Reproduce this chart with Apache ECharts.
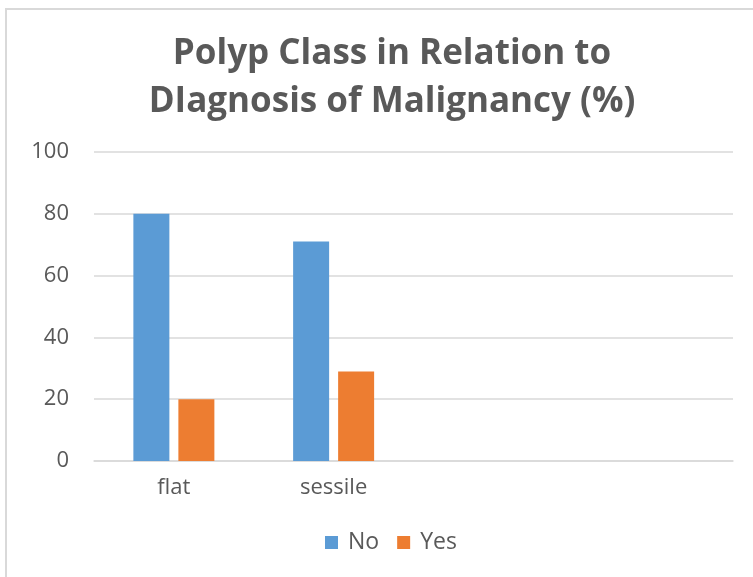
<!DOCTYPE html>
<html><head><meta charset="utf-8">
<script src="https://cdn.jsdelivr.net/npm/echarts@6/dist/echarts.min.js"></script>
<style>html,body{margin:0;padding:0;background:#fff}#c{width:753px;height:577px}</style>
</head><body><div id="c"></div>
<script>
const categories = ["flat", "sessile", "", ""];
const seriesNames = ["No", "Yes"];
const noValues = [80, 71, null, null];
const yesValues = [20, 29, null, null];
const yTicks = [0, 20, 40, 60, 80, 100];

const chart = echarts.init(document.getElementById('c'));
chart.setOption({
  animation: false,
  backgroundColor: '#fff',
  graphic: [{type: 'rect', shape: {x: 6, y: 9, width: 760, height: 580}, style: {fill: 'none', stroke: '#d9d9d9', lineWidth: 2}, silent: true}],
  title: {
    text: 'Polyp Class in Relation to\nDIagnosis of Malignancy (%)',
    left: 387, textAlign: 'center', top: 25,
    textStyle: {fontFamily: 'Open Sans', fontWeight: 'bold', fontSize: 35, color: '#595959', lineHeight: 48}
  },
  legend: {
    data: seriesNames, bottom: 18, left: 320, itemWidth: 13, itemHeight: 13, itemGap: 18,
    icon: 'rect',
    textStyle: {fontFamily: 'Open Sans', fontSize: 23, color: '#595959', padding: [0, 0, 0, 5]}
  },
  grid: {left: 94, right: 20, top: 152, bottom: 116},
  xAxis: {
    type: 'category', data: categories,
    axisLine: {lineStyle: {color: '#d9d9d9', width: 1.5}}, axisTick: {show: false},
    axisLabel: {fontFamily: 'Open Sans', fontSize: 22, color: '#595959', margin: 16}
  },
  yAxis: {
    type: 'value', min: 0, max: 100, interval: 20,
    axisLine: {show: false}, axisTick: {show: false},
    splitLine: {lineStyle: {color: '#d9d9d9', width: 1.5}},
    axisLabel: {fontFamily: 'Open Sans', fontSize: 22, color: '#595959', margin: 25,
      formatter: v => yTicks.includes(v) ? String(v) : ''}
  },
  series: [
    {name: seriesNames[0], type: 'bar', data: noValues, barWidth: 36, barGap: '25%', itemStyle: {color: '#5b9bd5'}},
    {name: seriesNames[1], type: 'bar', data: yesValues, barWidth: 36, barGap: '25%', itemStyle: {color: '#ed7d31'}}
  ]
});
</script></body></html>
